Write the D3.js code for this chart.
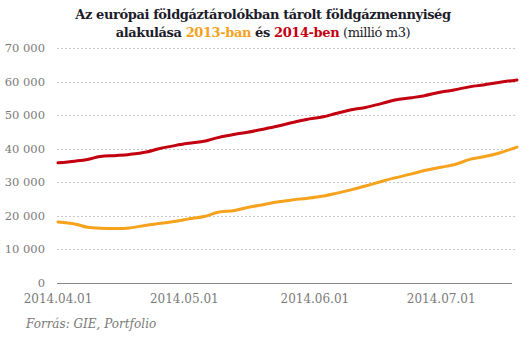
<!DOCTYPE html>
<html>
<head>
<meta charset="utf-8">
<script src="https://cdn.jsdelivr.net/npm/d3@7"></script>
<style>
  body { margin: 0; background: #fff; }
</style>
</head>
<body>
<div class="chart"></div>
<script>
// dates (2014) shared by both series
var dates = ["2014-04-01","2014-04-05","2014-04-08","2014-04-11","2014-04-15","2014-04-18",
  "2014-04-22","2014-04-25","2014-04-29","2014-05-02","2014-05-06","2014-05-09","2014-05-13",
  "2014-05-16","2014-05-20","2014-05-23","2014-05-27","2014-05-30","2014-06-03","2014-06-06",
  "2014-06-10","2014-06-13","2014-06-17","2014-06-20","2014-06-24","2014-06-27","2014-07-01",
  "2014-07-04","2014-07-08","2014-07-11","2014-07-15","2014-07-19"];

var values2013 = [18200,17600,16600,16300,16200,16400,17200,17700,18400,19100,19900,21100,21600,
  22500,23400,24100,24800,25200,25900,26700,27900,28900,30300,31300,32500,33500,34500,35200,
  36900,37600,38800,40500];

var values2014 = [35800,36300,36800,37700,38000,38300,39000,40000,41000,41600,42300,43300,44300,
  44900,45900,46700,47900,48700,49500,50500,51700,52300,53500,54500,55200,55800,56900,57500,
  58500,59000,59800,60500];

var yTicks = [0,10000,20000,30000,40000,50000,60000,70000];
var xTicks = ["2014-04-01","2014-05-01","2014-06-01","2014-07-01"];

var red = "#c3000f", orange = "#f6a21c";
var serif = "'DejaVu Serif', 'Liberation Serif', serif";

var width = 529, height = 340,
    margin = {top: 48, right: 12, bottom: 57, left: 58};

var parse = d3.timeParse("%Y-%m-%d");
var fmt = d3.timeFormat("%Y.%m.%d");

var svg = d3.select("div.chart").append("svg")
    .attr("width", width)
    .attr("height", height)
    .style("display", "block")
    .attr("font-family", serif);

var x = d3.scaleTime()
    .domain([parse(dates[0]), parse(dates[dates.length - 1])])
    .range([margin.left, width - margin.right]);

var y = d3.scaleLinear()
    .domain([0, 70000])
    .range([height - margin.bottom, margin.top]);

var spaceFmt = function(v) { return d3.format(",")(v).replace(/,/g, " "); };

// title
var title = svg.append("text")
    .attr("text-anchor", "middle")
    .attr("fill", "#1c1c2a")
    .attr("font-size", 13)
    .attr("font-weight", "bold")
    .attr("letter-spacing", -0.4);
title.append("tspan").attr("x", 263).attr("y", 19)
    .text("Az európai földgáztárolókban tárolt földgázmennyiség");
var l2 = title.append("tspan").attr("x", 263).attr("y", 37);
l2.append("tspan").text("alakulása ");
l2.append("tspan").attr("fill", orange).text("2013-ban");
l2.append("tspan").text(" és ");
l2.append("tspan").attr("fill", red).text("2014-ben");
l2.append("tspan").attr("font-weight", "normal").text(" (millió m3)");

// grid
svg.append("g").selectAll("line")
    .data(yTicks.filter(function(d) { return d > 0; }))
  .enter().append("line")
    .attr("x1", margin.left - 1)
    .attr("x2", width - margin.right)
    .attr("y1", function(d) { return Math.round(y(d)) + 0.5; })
    .attr("y2", function(d) { return Math.round(y(d)) + 0.5; })
    .attr("stroke", "#c8c8c8")
    .attr("stroke-dasharray", "2,2");

svg.append("line")
    .attr("x1", margin.left - 1)
    .attr("x2", width - margin.right - 5)
    .attr("y1", Math.round(y(0)) + 0.5)
    .attr("y2", Math.round(y(0)) + 0.5)
    .attr("stroke", "#888");

// y labels
svg.append("g").selectAll("text")
    .data(yTicks)
  .enter().append("text")
    .attr("x", 45)
    .attr("y", function(d) { return y(d) + 4; })
    .attr("text-anchor", "end")
    .attr("fill", "#7a7a7a")
    .attr("font-size", 11.5)
    .text(spaceFmt);

// x labels
svg.append("g").selectAll("text")
    .data(xTicks)
  .enter().append("text")
    .attr("x", function(d) { return x(parse(d)); })
    .attr("y", 303)
    .attr("text-anchor", "middle")
    .attr("fill", "#7a7a7a")
    .attr("font-size", 12)
    .text(function(d) { return fmt(parse(d)); });

var line = d3.line()
    .x(function(d, i) { return x(parse(dates[i])); })
    .y(function(d) { return y(d); })
    .curve(d3.curveMonotoneX);

svg.append("path")
    .datum(values2013)
    .attr("fill", "none")
    .attr("stroke", orange)
    .attr("stroke-width", 3)
    .attr("stroke-linejoin", "round")
    .attr("stroke-linecap", "round")
    .attr("d", line);

svg.append("path")
    .datum(values2014)
    .attr("fill", "none")
    .attr("stroke", red)
    .attr("stroke-width", 3)
    .attr("stroke-linejoin", "round")
    .attr("stroke-linecap", "round")
    .attr("d", line);

// source
svg.append("text")
    .attr("x", 26)
    .attr("y", 328)
    .attr("fill", "#7a7a7a")
    .attr("font-size", 12)
    .attr("font-style", "italic")
    .text("Forrás: GIE, Portfolio");
</script>
</body>
</html>
